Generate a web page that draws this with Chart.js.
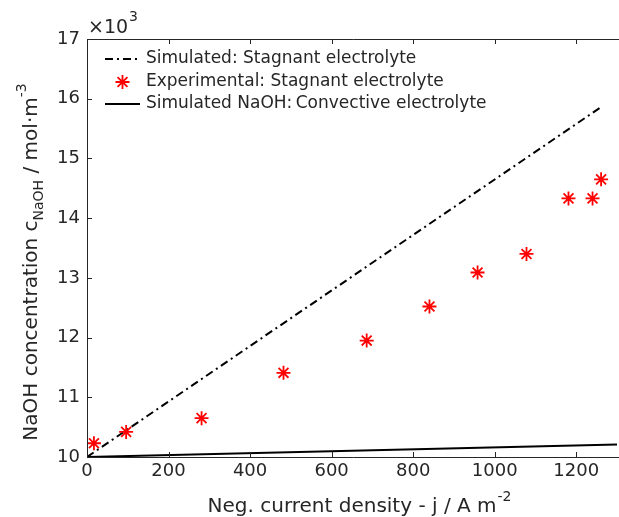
<!DOCTYPE html>
<html>
<head>
<meta charset="utf-8">
<script src="https://cdn.jsdelivr.net/npm/chart.js@4.4.1/dist/chart.umd.min.js"></script>
<style>
html,body{margin:0;padding:0;background:#fff;}
#wrap{width:619px;height:517px;position:relative;}
</style>
</head>
<body>
<div id="wrap"><canvas id="c" width="619" height="517"></canvas></div>
<script>
// ---- data ----
const expX = [17, 96, 281, 482, 686, 840, 958, 1078, 1181, 1240, 1261];
const expY = [10230, 10420, 10650, 11410, 11950, 12520, 13090, 13400, 14330, 14330, 14650];
const stagX = [0, 1263];
const stagY = [10000, 15870];
const convX = [0, 1300];
const convY = [10000, 10210];
const xTicks = [0, 200, 400, 600, 800, 1000, 1200];
const yTicks = [10000, 11000, 12000, 13000, 14000, 15000, 16000, 17000];
const legendLabels = ['Simulated: Stagnant electrolyte', 'Experimental: Stagnant electrolyte', 'Simulated NaOH:\u2009Convective electrolyte'];

const FONT = "'DejaVu Sans', sans-serif";
const TXT = '#262626';
const PLOT_RIGHT = 617;

const pts = (xs, ys) => xs.map((x, i) => ({x: x, y: ys[i]}));

const fixArea = {
  id: 'fixArea',
  afterLayout(chart) {
    const x = chart.scales.x;
    x.right = PLOT_RIGHT;
    x.width = PLOT_RIGHT - x.left;
    chart.chartArea.right = PLOT_RIGHT;
    chart.chartArea.width = PLOT_RIGHT - chart.chartArea.left;
    x.configure();
    x._labelItems = null;
  }
};

const deco = {
  id: 'deco',
  afterDraw(chart) {
    const ctx = chart.ctx;
    const a = chart.chartArea;
    const xs = chart.scales.x, ys = chart.scales.y;
    ctx.save();
    ctx.strokeStyle = TXT;
    ctx.lineWidth = 1;
    ctx.beginPath();
    // axes box (left, bottom, top)
    ctx.moveTo(a.left + 0.5, a.top + 0.5);
    ctx.lineTo(a.left + 0.5, a.bottom + 0.5);
    ctx.lineTo(a.right + 2, a.bottom + 0.5);
    ctx.moveTo(a.left + 0.5, a.top + 0.5);
    ctx.lineTo(a.right + 2, a.top + 0.5);
    // ticks inward
    xTicks.forEach(v => {
      const px = Math.round(xs.getPixelForValue(v)) + 0.5;
      ctx.moveTo(px, a.bottom); ctx.lineTo(px, a.bottom - 5);
      ctx.moveTo(px, a.top); ctx.lineTo(px, a.top + 5);
    });
    yTicks.forEach(v => {
      const py = Math.round(ys.getPixelForValue(v)) + 0.5;
      ctx.moveTo(a.left, py); ctx.lineTo(a.left + 5, py);
    });
    ctx.stroke();

    // exponent label x10^3
    ctx.fillStyle = TXT;
    ctx.textBaseline = 'alphabetic';
    ctx.textAlign = 'left';
    ctx.font = '19px ' + FONT;
    ctx.fillText('\u00d710', a.left + 1, 33);
    const w10 = ctx.measureText('\u00d710').width;
    ctx.font = '14px ' + FONT;
    ctx.fillText('3', a.left + 1 + w10 + 1, 21);

    // legend
    const lx0 = 105, lx1 = 140, tx = 146;
    const rows = [59, 82, 104];
    ctx.font = '17px ' + FONT;
    ctx.textBaseline = 'middle';
    ctx.fillStyle = TXT;
    legendLabels.forEach((t, i) => ctx.fillText(t, tx, rows[i]));
    // sample 1: dash-dot
    ctx.strokeStyle = '#000';
    ctx.lineWidth = 2;
    ctx.setLineDash([8, 4, 2, 4]);
    ctx.beginPath(); ctx.moveTo(lx0, rows[0]); ctx.lineTo(lx1, rows[0]); ctx.stroke();
    ctx.setLineDash([]);
    // sample 3: solid
    ctx.beginPath(); ctx.moveTo(lx0, rows[2]); ctx.lineTo(lx1, rows[2]); ctx.stroke();
    // sample 2: star
    const cx = (lx0 + lx1) / 2, cy = rows[1], r = 7;
    ctx.strokeStyle = '#ff0000';
    ctx.lineWidth = 1.8;
    ctx.beginPath();
    ctx.moveTo(cx - r, cy); ctx.lineTo(cx + r, cy);
    ctx.moveTo(cx, cy - r); ctx.lineTo(cx, cy + r);
    const d = r * Math.SQRT1_2;
    ctx.moveTo(cx - d, cy - d); ctx.lineTo(cx + d, cy + d);
    ctx.moveTo(cx - d, cy + d); ctx.lineTo(cx + d, cy - d);
    ctx.stroke();

    // x axis title
    ctx.fillStyle = TXT;
    ctx.textBaseline = 'alphabetic';
    const xt = 'Neg. current density - j / A m';
    ctx.font = '20px ' + FONT;
    const wxt = ctx.measureText(xt).width;
    ctx.font = '14px ' + FONT;
    const wsup = ctx.measureText('-2').width;
    let sx = 359 - (wxt + wsup) / 2;
    ctx.font = '20px ' + FONT;
    ctx.fillText(xt, sx, 512);
    ctx.font = '14px ' + FONT;
    ctx.fillText('-2', sx + wxt + 1, 501);

    // y axis title (rotated)
    ctx.save();
    ctx.translate(37, 262);
    ctx.rotate(-Math.PI / 2);
    const parts = [
      {t: 'NaOH concentration c', f: 20, dy: 0},
      {t: 'NaOH', f: 14, dy: 6},
      {t: ' / mol\u00b7m', f: 20, dy: 0},
      {t: '-3', f: 14, dy: -11}
    ];
    let tot = 0;
    parts.forEach(p => { ctx.font = p.f + 'px ' + FONT; p.w = ctx.measureText(p.t).width; tot += p.w; });
    let px = -tot / 2;
    parts.forEach(p => { ctx.font = p.f + 'px ' + FONT; ctx.fillText(p.t, px, p.dy); px += p.w; });
    ctx.restore();

    ctx.restore();
  }
};

new Chart(document.getElementById('c'), {
  type: 'scatter',
  data: {
    datasets: [
      {
        label: legendLabels[1],
        data: pts(expX, expY),
        showLine: false,
        pointStyle: 'star',
        pointRadius: 7,
        pointHoverRadius: 7,
        borderColor: '#ff0000',
        backgroundColor: '#ff0000',
        pointBorderWidth: 1.8,
        order: 1
      },
      {
        label: legendLabels[0],
        data: pts(stagX, stagY),
        showLine: true,
        pointRadius: 0,
        borderColor: '#000',
        borderWidth: 2,
        borderDash: [8, 4, 2, 4],
        order: 2
      },
      {
        label: legendLabels[2],
        data: pts(convX, convY),
        showLine: true,
        pointRadius: 0,
        borderColor: '#000',
        borderWidth: 2,
        order: 3
      }
    ]
  },
  options: {
    responsive: false,
    animation: false,
    events: [],
    layout: {padding: {top: 39, right: 2, left: 0, bottom: 0}},
    plugins: {legend: {display: false}, tooltip: {enabled: false}},
    scales: {
      x: {
        type: 'linear', min: 0, max: 1300,
        grid: {display: false, drawTicks: false},
        border: {display: false},
        afterBuildTicks: s => { s.ticks = xTicks.map(v => ({value: v})); },
        afterFit: s => { s.height = 60; },
        ticks: {color: TXT, font: {family: FONT, size: 18}, padding: 4, maxRotation: 0, autoSkip: false, callback: v => String(v)}
      },
      y: {
        type: 'linear', min: 10000, max: 17000,
        grid: {display: false, drawTicks: false},
        border: {display: false},
        afterBuildTicks: s => { s.ticks = yTicks.map(v => ({value: v})); },
        afterFit: s => { s.width = 87; },
        ticks: {color: TXT, font: {family: FONT, size: 18}, padding: 7, callback: v => String(v / 1000)}
      }
    }
  },
  plugins: [fixArea, deco]
});
</script>
</body>
</html>
